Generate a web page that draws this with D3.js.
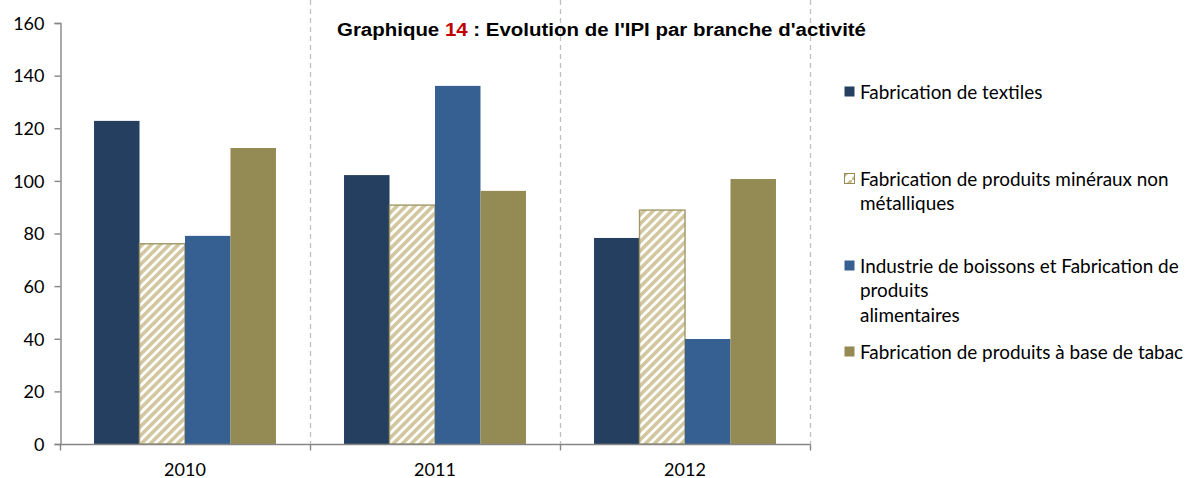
<!DOCTYPE html>
<html>
<head>
<meta charset="utf-8">
<script src="https://cdn.jsdelivr.net/npm/d3@7"></script>
<style>
  html, body { margin: 0; padding: 0; background: #fff; }
  svg { display: block; }
</style>
</head>
<body>
<svg id="chart" width="1189" height="478"></svg>
<script>
const years = ["2010", "2011", "2012"];
const seriesNames = [
  "Fabrication de textiles",
  "Fabrication de produits minéraux non métalliques",
  "Industrie de boissons et Fabrication de produits alimentaires",
  "Fabrication de produits à base de tabac"
];
const legendLines = [
  ["Fabrication de textiles"],
  ["Fabrication de produits minéraux non", "métalliques"],
  ["Industrie de boissons et Fabrication de", "produits", "alimentaires"],
  ["Fabrication de produits à base de tabac"]
];
const textiles = [122.8, 102.2, 78.3];
const mineraux = [76.1, 90.8, 88.9];
const boissons = [79.1, 136.1, 39.9];
const tabac = [112.5, 96.2, 100.7];
const yTicks = [0, 20, 40, 60, 80, 100, 120, 140, 160];

const allSeries = [textiles, mineraux, boissons, tabac];
const fills = ["#243F60", "url(#hatch)", "#366092", "#948A54"];
const strokes = ["none", "#A09868", "none", "none"];
const legendFills = ["#243F60", "url(#hatchSmall)", "#366092", "#948A54"];

const svg = d3.select("#chart");
const defs = svg.append("defs");
const hatch = defs.append("pattern")
  .attr("id", "hatch").attr("patternUnits", "userSpaceOnUse")
  .attr("width", 9).attr("height", 9);
hatch.append("rect").attr("width", 9).attr("height", 9).attr("fill", "#fff");
hatch.append("path")
  .attr("d", "M-2,2 l4,-4 M0,9 l9,-9 M7,11 l4,-4")
  .attr("stroke", "#D2C79E").attr("stroke-width", 3.6);
const hs = defs.append("pattern")
  .attr("id", "hatchSmall").attr("patternUnits", "userSpaceOnUse")
  .attr("width", 12).attr("height", 12);
hs.append("rect").attr("width", 12).attr("height", 12).attr("fill", "#fff");
hs.append("path").attr("d", "M0,12 L12,0").attr("stroke", "#C9BC8C").attr("stroke-width", 3);

const x0 = 60, x1 = 810, yTop = 23, yBot = 444;
const x = d3.scaleBand().domain(years).range([x0, x1]).paddingInner(0).paddingOuter(0);
const xi = d3.scaleBand().domain(d3.range(4)).range([0, x.bandwidth()]).paddingOuter(0.748).paddingInner(0);
const y = d3.scaleLinear().domain([0, 160]).range([yBot, yTop]);

const FONT = "Lato, 'Open Sans', sans-serif";

// dashed separators
const seps = [x("2011"), x("2012"), x1];
svg.append("g").selectAll("line").data(seps).join("line")
  .attr("x1", d => d + 0.5).attr("x2", d => d + 0.5)
  .attr("y1", 0).attr("y2", yBot)
  .attr("stroke", "#BFBFBF").attr("stroke-width", 1.3)
  .attr("stroke-dasharray", "5,4");

// bars
const gBars = svg.append("g");
years.forEach((yr, i) => {
  allSeries.forEach((s, k) => {
    gBars.append("rect")
      .attr("x", x(yr) + xi(k))
      .attr("y", y(s[i]))
      .attr("width", xi.bandwidth())
      .attr("height", yBot - y(s[i]))
      .attr("fill", fills[k])
      .attr("stroke", strokes[k])
      .attr("stroke-width", 1.4);
  });
});

// y axis
const yAxis = d3.axisLeft(y).tickValues(yTicks).tickSize(6).tickPadding(10);
const gy = svg.append("g").attr("transform", `translate(${x0 + 0.5},0)`).call(yAxis);
gy.select(".domain").attr("stroke", "#868686").attr("stroke-width", 1.4);
gy.selectAll(".tick line").attr("stroke", "#868686").attr("stroke-width", 1.4);
gy.selectAll(".tick text").attr("font-family", FONT)
  .attr("font-size", 18).attr("fill", "#000").attr("dy", "0.35em");

// x axis
const gx = svg.append("g").attr("transform", `translate(0,${yBot + 0.5})`);
gx.append("line").attr("x1", x0).attr("x2", x1 + 0.5)
  .attr("stroke", "#868686").attr("stroke-width", 1.6);
gx.selectAll("line.t").data([x0, ...seps]).join("line").attr("class", "t")
  .attr("x1", d => d + 0.5).attr("x2", d => d + 0.5).attr("y1", 0).attr("y2", 6)
  .attr("stroke", "#868686").attr("stroke-width", 1.4);
gx.selectAll("text").data(years).join("text")
  .attr("x", d => x(d) + x.bandwidth() / 2).attr("y", 31)
  .attr("text-anchor", "middle")
  .attr("font-family", FONT).attr("font-size", 18)
  .text(d => d);

// title
const title = svg.append("text").attr("x", 337).attr("y", 36)
  .attr("font-family", "'Liberation Sans', Arial, sans-serif")
  .attr("font-weight", "bold").attr("font-size", 18).attr("fill", "#000")
  .attr("textLength", 529).attr("lengthAdjust", "spacingAndGlyphs");
title.append("tspan").text("Graphique ");
title.append("tspan").attr("fill", "#C00000").text("14");
title.append("tspan").text(" : Evolution de l'IPI par branche d'activité");

// legend
const legendY = [[99], [186, 210], [273, 297, 322], [359]];
const leg = svg.append("g");
legendLines.forEach((lines, k) => {
  const by = legendY[k][0];
  leg.append("rect").attr("x", 844.5).attr("y", by - 12.5).attr("width", 10).attr("height", 10)
    .attr("fill", legendFills[k])
    .attr("stroke", k === 1 ? "#948A54" : "none").attr("stroke-width", 1);
  lines.forEach((ln, j) => {
    leg.append("text").attr("x", 860).attr("y", legendY[k][j])
      .attr("font-family", FONT).attr("font-size", 18.9)
      .attr("fill", "#000").text(ln);
  });
});
</script>
</body>
</html>
